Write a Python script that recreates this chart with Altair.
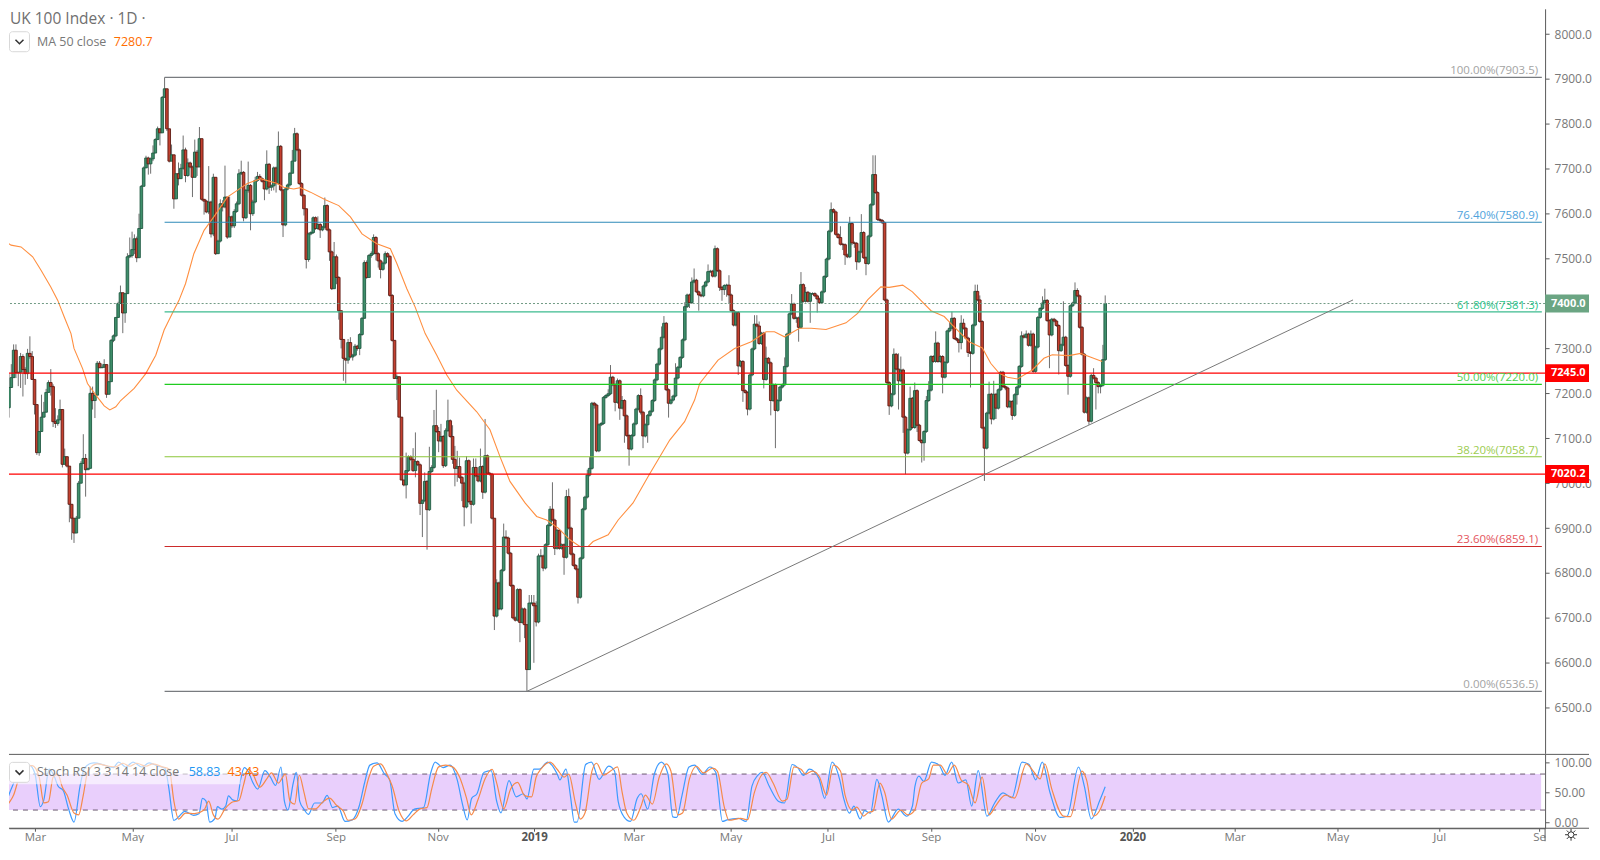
import json
import altair as alt
import pandas as pd

FONT = "Open Sans"
first_open = 7170
closes = [
7093,7178,7168,7213,7235,7296,7246,7247,7282,7253,
7244,7289,7282,7231,7175,7068,7115,7147,7158,7202,
7224,7215,7137,7133,7141,7164,7042,7059,7038,6953,
6922,6889,6922,7000,7044,7055,7030,7033,7200,7184,
7196,7267,7257,7258,7264,7198,7226,7318,7328,7369,
7400,7424,7379,7422,7504,7507,7520,7544,7502,7567,
7661,7702,7724,7711,7722,7735,7765,7789,7780,7859,7878,
7789,7717,7731,7633,7689,7678,7701,7742,7685,7713,
7704,7681,7737,7704,7767,7632,7628,7604,7626,7555,
7681,7511,7539,7622,7615,7637,7548,7593,7573,7605,
7622,7689,7692,7591,7652,7663,7600,7626,7674,
7683,7678,7672,7655,7710,7659,7662,7702,7667,7750,
7653,7575,7655,7664,7690,7717,7778,7742,7667,7641,
7611,7498,7555,7558,7591,7567,7576,7564,7570,7618,
7564,7515,7433,7504,7458,7384,7320,7278,7274,7313,
7281,7285,7305,7300,7331,7367,7491,7458,7507,7511,
7547,7511,7495,7476,7490,7511,7505,7418,7318,7233,
7237,7147,7007,6996,7028,7059,7053,7028,7048,7041,
6955,6961,7004,6941,7026,7035,7128,7115,7094,7104,
7039,7117,7139,7104,7053,7033,7037,7013,7000,6947,
7050,6959,6953,7035,7016,7005,7037,6980,7061,7022,
7020,6922,6704,6778,6720,6806,6880,6878,6844,6772,
6700,6695,6763,6690,6720,6685,6585,6733,6733,6727,
6691,6838,6838,6811,6863,6906,6942,6918,6855,6895,
6855,6863,6835,6970,6900,6842,6817,6809,6746,6833,
6942,6969,7018,7033,7178,7174,7072,7130,7133,7191,
7195,7199,7236,7219,7180,7228,7167,7184,7150,7106,
7076,7106,7132,7165,7195,7158,7105,7130,7151,7160,
7184,7230,7265,7299,7325,7356,7208,7178,7185,7194,
7234,7258,7280,7319,7393,7419,7402,7448,7452,7426,
7419,7417,7439,7448,7471,7472,7461,7522,7473,7436,
7431,7440,7441,7419,7384,7352,7380,7261,7271,7206,
7202,7165,7241,7299,7354,7350,7311,7334,7231,7278,
7268,7184,7219,7162,7184,7214,7219,7260,7332,7377,
7399,7367,7368,7347,7442,7405,7425,7405,7422,7422,
7417,7410,7402,7426,7460,7499,7561,7609,7604,7554,
7547,7532,7531,7508,7504,7578,7535,7534,7493,7515,
7558,7502,7489,7550,7620,7687,7647,7587,7585,7580,
7408,7224,7172,7198,7287,7254,7228,7252,7147,7067,
7119,7189,7124,7206,7129,7095,7090,7115,7184,7207,
7282,7271,7312,7271,7282,7236,7269,7339,7345,7367,
7322,7319,7313,7356,7345,7323,7291,7289,7352,7427,
7408,7360,7123,7078,7156,7198,7143,7198,7167,7208,
7247,7215,7212,7170,7182,7151,7197,7214,7260,7328,
7325,7332,7307,7332,7249,7303,7369,7389,7401,7407,
7362,7330,7365,7361,7351,7295,7308,7325,7262,7238,
7395,7401,7429,7417,7347,7287,7158,7190,7138,7240,
7234,7224,7215,7218,7275,7400,
]
wick_up = [
0,22,5,30,30,13,13,0,8,5,
5,10,38,12,0,0,0,50,23,8,
5,30,5,30,10,22,0,18,0,0,
0,0,5,5,5,54,10,0,15,15,
0,5,5,8,12,0,0,3,3,0,
4,16,0,0,8,40,40,10,5,33,
3,3,5,3,3,17,3,5,0,3,25.5,
0,0,23,0,0,25,10,32,5,10,
3,3,28,5,26,0,0,3,80,3,
8,0,3,10,8,70,0,45,3,5,
5,10,26,3,3,53,3,5,8,
10,5,3,3,31,3,3,3,3,33,
3,0,3,3,3,25,13,3,3,3,
3,0,3,3,3,3,18,3,3,18,
3,3,3,33,5,3,0,0,0,8,
12,3,5,3,3,3,5,5,3,5,
7,3,3,3,3,5,3,3,3,0,
5,0,0,0,40,3,3,25,65,3,
3,3,20,3,55,5,35,80,10,28,
3,5,47,3,25,30,35,20,3,3,
10,3,3,20,20,20,40,3,82,3,
3,3,0,8,3,3,30,15,3,3,
3,3,3,3,3,3,0,18,18,18,
10,5,15,3,3,3,7,60,3,3,
3,3,3,15,18,3,3,3,0,3,
3,3,12,25,3,3,3,3,3,3,
3,10,27,3,3,5,3,10,3,3,
3,3,3,3,3,16,3,3,3,3,
3,3,3,3,24,16,3,3,3,3,
33,3,3,3,10,3,3,10,26,3,
3,3,3,3,16,3,3,7,3,3,
3,3,3,22,3,3,3,3,3,3,
3,3,3,3,20,20,10,3,3,26,
3,3,3,3,3,3,3,20,3,3,
22,3,3,3,28,3,12,3,3,3,
3,3,3,3,3,3,3,16,3,3,
3,25,3,3,3,15,3,3,3,3,
41,3,3,3,3,43,43,3,3,3,
3,3,3,3,13,3,35,30,3,3,
3,26,3,18,3,3,3,3,10,20,
3,3,26,3,3,3,3,3,14,15,
3,3,3,18,10,3,3,3,3,15,
15,10,3,3,3,28,3,30,3,3,
3,3,3,3,3,3,3,3,3,10,
5,8,3,8,3,3,3,3,15,26,
3,3,3,3,3,3,3,80,3,3,
3,3,18,5,3,3,3,3,3,3,
16,3,3,3,33,18,
]
wick_down = [
15,0,5,22,0,0,12,30,35,60,
25,12,5,0,22,5,7,0,0,0,
0,20,12,10,5,0,7,0,3,40,
48,22,0,0,0,0,60,0,0,20,
39,0,0,0,0,8,0,0,4,3,
0,0,45,22,0,3,5,10,10,0,
0,0,0,24,22,5,0,0,28,0,0,
5,3,0,22,0,15,0,3,15,3,
3,44,0,20,0,3,30,3,5,8,
5,3,0,3,10,3,4,0,5,5,
3,3,3,8,3,5,37,5,3,
3,3,3,25,3,15,8,10,20,3,
3,27,3,3,3,0,0,3,3,3,
15,20,5,3,3,3,3,18,3,3,
3,20,3,0,15,20,20,50,52,8,
3,8,3,5,15,3,0,3,0,5,
3,15,15,20,3,3,3,3,3,0,
48,0,0,3,30,3,3,3,15,3,
26,75,3,89,3,3,3,3,25,3,
5,3,3,3,10,40,30,3,40,43,
3,3,43,3,3,3,3,15,3,3,
3,3,31,3,3,3,3,3,3,3,
3,3,3,44,3,30,49,0,3,127,
10,3,3,7,3,3,3,3,15,3,
3,3,39,3,3,3,3,3,14,3,
3,3,3,3,3,8,3,3,3,3,
3,3,3,3,20,3,26,3,60,3,
37,3,3,3,3,5,27,3,40,3,
3,3,3,3,3,3,3,32,3,3,
3,3,3,3,3,3,12,3,3,3,
35,3,3,3,3,3,3,3,3,8,
25,12,25,20,3,3,3,20,3,25,
3,14,3,3,3,3,3,3,20,3,
3,33,3,84,3,3,3,3,3,3,
3,3,10,32,3,3,3,3,48,3,
3,30,3,3,3,3,3,3,3,3,
3,3,12,22,3,3,5,10,18,3,
3,3,26,3,3,3,3,3,3,3,
3,3,20,3,3,3,64,3,35,47,
3,3,3,3,15,3,44,40,3,3,
3,3,3,3,3,36,3,3,3,3,
3,3,22,15,3,3,10,76,3,3,
3,3,3,73,3,3,12,3,24,3,
3,3,5,3,3,10,3,22,3,3,
3,3,3,3,3,3,3,3,3,3,
3,74,3,3,3,53,3,3,3,41,
3,3,3,3,3,3,3,3,8,3,
3,60,15,15,3,3,
]
ma_bar = [0,3.9,8.2,13.2,16.8,21,24,26.8,29.7,31,34.7,36.8,40.4,44,46.4,49,51.1,56.9,61.9,66.2,69.8,73.3,76.2,79,82.6,87,91.2,97,101.3,105.6,111.3,118.5,121.3,125.6,128.5,132.8,139.2,145,150,155,161.4,167.2,170,174.3,177.9,182.2,187.2,191.5,195.8,204.4,210.1,214.4,218.7,225.2,230.2,234.5,239.5,244.5,248.8,252.4,254.5,261,265.3,271.7,278.2,287.5,293.9,298.2,300.4,308.3,315.4,322.6,329,332.6,336.9,343.4,348.4,354.8,363.4,368.4,372.7,378.4,382,387.8,392,400,405.7,409.2,416.4,422.1,425.7,429.3,432.9,437.2,443.6,448.6,452.2,459.4,464.4,468,473.7]
ma_val = [7543,7530,7526,7504,7474,7437,7407,7370,7333,7300,7255,7222,7196,7172,7163,7170,7184,7211,7244,7285,7341,7378,7407,7444,7511,7563,7593,7637,7652,7667,7678,7667,7659,7655,7658,7648,7631,7618,7593,7555,7533,7522,7489,7433,7392,7333,7285,7241,7207,7159,7119,7059,7004,6956,6926,6918,6900,6874,6859,6859,6870,6885,6918,6956,7015,7096,7137,7185,7222,7274,7300,7315,7337,7337,7326,7345,7345,7342,7357,7378,7408,7437,7436,7441,7426,7384,7371,7352,7315,7301,7267,7245,7236,7232,7252,7278,7286,7284,7289,7282,7271]
blue_bar = [0,1.9,3.4,5.7,7.2,11.8,14.2,16.5,18,20.3,22.6,24.1,26.4,28.7,31,33.6,35.6,39.5,44.1,47.9,50.2,53.3,56.4,60.2,63.3,67.1,70.2,71.7,74,76.3,78.6,82.5,84.8,86.3,87.8,89.4,91.7,92.7,94.7,96.3,97.5,99.3,101.2,102.7,104.3,106.2,107.8,110.1,113.2,115.5,117.8,120.1,121.6,123.1,125.4,126.7,128.2,130,131.9,134.6,137.7,140,142.3,144.6,147.7,150.8,153.8,156.1,158.4,161.5,164.6,166.9,169.2,172.3,174.6,177.6,181.5,184.5,186.5,189.9,193,196,198.3,200.3,202.2,204.5,207.6,210.6,213,214.8,218.3,221.4,224.5,226,229,231.4,234.9,239,240.2,242.8,244.8,246.4,247.6,251.3,253.8,257.1,261.2,263.7,265.3,267.8,270.6,273.5,275.2,278,280.9,283.9,286.7,288.8,290.5,292.8,295.8,298.2,301.5,304.8,307.3,310.2,312.2,317.1,320.4,322.9,325.4,327.3,330.3,334.4,336.9,340.2,342.6,345.1,347.6,351.7,354.2,357.4,360.7,362.4,364.9,366.8,369.5,371.4,373.9,376.7,378.8,381.6,385.9,389.5,392,393.1,394.8,396.9,400.2,403.5,406,408.9,411.7,415,417.5,420.3,424.1,427.4,431,434.8,439.2,442.2,445.1,447.9,451.2,455.6,458.6,463.5,466,469,472.6,475]
blue_val = [21.5,34.4,49.7,72.8,95.9,94.9,80.5,25.6,36.9,88.2,75.4,60,52.3,21.5,0,60,90.8,98.5,94.9,90.8,100,91.8,100,91.8,98.5,93.3,89.7,60,2.6,9.7,17.9,11.3,13.8,39.5,35.4,0,6.2,25.6,21.5,26.7,43.6,36.9,35.4,70.3,90.8,83,67.7,54.9,85.6,75.4,61,91.8,34.4,20,65.1,83,34.4,21.5,12.8,31.8,31.8,44.6,24.1,26.7,1,3.6,26.7,65.1,94.9,98.5,80.5,70.3,13.8,1,8.7,21.5,24.1,80.5,100,90.8,94.9,70.3,29.2,3.6,39.5,47.2,83,85.6,34.4,15.4,69.2,42.1,47.2,38.5,88.2,88.2,100,80.5,70.3,88.2,42.1,0,0,95.9,100,71.3,93.3,85.6,34.4,8.7,1,39.5,47.2,21.5,80.5,100,80.5,8.7,7.7,44.6,91.8,94.9,79.5,91.8,83,1,3.6,6.2,1,60,77.9,83,60,34.4,31.8,95.9,90.8,77.9,88.2,72.8,39.5,100,70.3,39.5,14.9,26.7,5.1,19,14.9,71.3,44.6,0,21.5,9.7,26.7,60,76.4,67.7,100,94.9,77.9,100,65.1,70.3,26.7,85.6,9.7,31.8,48.7,40.5,100,95.9,70.3,100,49.7,7.7,9.7,91.8,60,5.1,35.4,58.83]
orange_bar = [0,3,5,7,9,13,16,18,20,22,24,26,28,31,33,35,37,41,46,49,52,55,58,62,65,69,72,74,76,79,83,87,89,91,93,96,99,102,104,106,108,111,114,116,119,122,124,126,128,130,132,135,138,141,144,147,149,152,155,158,160,163,166,168,171,174,177,180,183,185,188,191,194,197,200,202,205,208,211,213,216,219,222,225,228,230,232,236,239,242,244,247,249,251,254,256,259,262,265,267,269,272,275,277,280,283,286,288,291,293,296,299,302,306,308,311,313,318,321,324,327,329,332,336,338,341,344,346,349,352,355,358,361,363,366,368,371,373,375,378,380,383,387,390,393,396,399,401,404,407,410,413,416,419,422,425,428,432,436,441,444,447,449,452,457,460,465,467,470,473,475]
orange_val = [18,32,45,70,92,94,75,32,34,75,80,58,45,15,12,45,85,97,93,92,98,93,98,93,97,92,88,35,5,15,14,20,35,12,5,22,33,36,62,88,80,58,72,82,65,80,35,30,78,50,22,22,33,40,28,18,3,5,30,75,93,97,78,60,18,2,12,22,24,55,92,95,92,75,40,12,38,72,88,65,22,55,66,44,42,75,88,100,88,75,80,30,5,15,85,98,78,85,92,50,15,3,25,45,30,75,97,85,12,15,72,93,82,90,85,25,3,6,4,50,78,83,65,35,38,92,88,80,85,75,45,95,85,45,20,25,10,16,18,65,50,5,20,12,20,65,72,95,95,80,95,70,62,32,75,12,28,45,40,97,85,72,97,55,10,9,85,70,10,22,43.43]
y_ticks = [6500,6600,6700,6800,6900,7000,7100,7200,7300,7500,7600,7700,7800,7900,8000]
month_bars = [14.2,56.1,98.8,143.7,187.6,229.1,272,313.7,355.6,400,444.8,486.7,530.7,575,618.8,661.8]
month_labels = ["Mar","May","Jul","Sep","Nov","2019","Mar","May","Jul","Sep","Nov","2020","Mar","May","Jul","Se"]
fib_levels = [7903.5,7580.9,7381.3,7220.0,7058.7,6859.1,6536.5]
fib_text = ["100.00%(7903.5)","76.40%(7580.9)","61.80%(7381.3)","50.00%(7220.0)","38.20%(7058.7)","23.60%(6859.1)","0.00%(6536.5)"]
fib_line_colors = ["#787b7f","#2e8ab8","#3dbb8f","#20cc20","#8cc63a","#cc2b2b","#787b7f"]
fib_text_colors = ["#a3a3a3","#4fa3dc","#2cc48a","#4fd24f","#9ccc50","#e4555c","#a3a3a3"]
price_tags = [7400.0,7245.0,7020.2]
tag_low = [7380,7225,7000.2]
tag_high = [7420,7265,7040.2]
tag_text = ["7400.0","7245.0","7020.2"]
tag_colors = ["#6ba583","#ff0000","#ff0000"]
red_levels = [7245.0,7020.2]
fib_start_bar = 70
fib_end_bar = 663
trend_bar = [226,581.7]
trend_val = [6536.5,7408]

W, H1, H2 = 1539, 746, 74
RIGHT = 1583
AXC = "#5a5a5a"
TXT = "#787878"
x_scale = alt.Scale(domain=[3.008,664.4], nice=False, zero=False, padding=0)
y_scale = alt.Scale(domain=[6398.4,8056.2], nice=False, zero=False)
y2_scale = alt.Scale(domain=[-10.3,112.8], nice=False, zero=False)
y_axis = alt.Axis(orient="right",values=y_ticks,format=".1f",title=None,grid=False,
    labelFont=FONT,labelFontSize=12,labelColor=TXT,labelPadding=5,tickSize=4,tickColor=AXC,domainColor=AXC)
y2_axis = alt.Axis(orient="right",values=[0,50,100],format=".2f",title=None,grid=False,
    labelFont=FONT,labelFontSize=12,labelColor=TXT,labelPadding=5,tickSize=4,tickColor=AXC,domainColor=AXC)
x_axis = alt.Axis(values=month_bars,title=None,grid=False,orient="bottom",
    labelExpr=json.dumps({str(b):l for b,l in zip(month_bars,month_labels)})+"[datum.value]",
    labelFont=FONT,labelFontSize=11.5,
    labelColor={"condition":{"test":"datum.value==229.1||datum.value==486.7","value":"#555555"},"value":TXT},
    labelFontWeight={"condition":{"test":"datum.value==229.1||datum.value==486.7","value":"bold"},"value":"normal"},
    labelPadding=0,tickSize=3,tickColor=AXC,domainColor=AXC,labelOverlap=False,labelBound=False,labelFlush=False)
X = lambda f="bar": alt.X(f"{f}:Q", scale=x_scale, axis=None)
Xb = lambda f="bar": alt.X(f"{f}:Q", scale=x_scale, axis=x_axis)
Y = lambda f: alt.Y(f"{f}:Q", scale=y_scale, axis=y_axis)
Y2 = lambda f: alt.Y(f"{f}:Q", scale=y2_scale, axis=y2_axis)

opens = [first_open] + closes[:-1]
df = pd.DataFrame({"bar":range(len(closes)),"open":opens,"close":closes,"up":wick_up,"down":wick_down})
df["top"] = df[["open","close"]].max(axis=1)
df["bot"] = df[["open","close"]].min(axis=1)
df["high"] = df["top"]+df["up"]
df["low"] = df["bot"]-df["down"]
df["dir"] = ["u" if c>=o else "d" for o,c in zip(opens,closes)]

wicks = alt.Chart(df).mark_rule(color="#6e6e6e",strokeWidth=1,clip=True).encode(x=X(),y=Y("high"),y2="low:Q")
bodies = alt.Chart(df).mark_bar(size=2.6,strokeWidth=0.9,clip=True).encode(
    x=X(),y=Y("top"),y2="bot:Q",
    fill=alt.Fill("dir:N",scale=alt.Scale(domain=["u","d"],range=["#3f8f6b","#c4402f"]),legend=None),
    stroke=alt.Stroke("dir:N",scale=alt.Scale(domain=["u","d"],range=["#1f5a42","#5e1a12"]),legend=None))
ma = alt.Chart(pd.DataFrame({"bar":ma_bar,"v":ma_val})).mark_line(color="#ff8f40",strokeWidth=1.1,clip=True).encode(x=X(),y=Y("v"),order="bar:Q")
dash400 = alt.Chart(pd.DataFrame({"p":[price_tags[0]]})).mark_rule(color="#6f9a84",strokeWidth=1,strokeDash=[2,2]).encode(y=Y("p"))
reds = alt.Chart(pd.DataFrame({"p":red_levels})).mark_rule(color="#ff0000",strokeWidth=1.2).encode(y=Y("p"))
fib_df = pd.DataFrame({"p":fib_levels,"t":fib_text,"c":fib_line_colors,"tc":fib_text_colors,"a":[fib_start_bar]*7,"b":[fib_end_bar]*7})
fibs = alt.Chart(fib_df).mark_rule(strokeWidth=1.1).encode(x=X("a"),x2="b:Q",y=Y("p"),color=alt.Color("c:N",scale=None))
fib_lab = alt.Chart(fib_df).mark_text(align="right",baseline="middle",dy=-6,font=FONT,fontSize=11.5).encode(
    x=alt.value(1532),y=Y("p"),text="t:N",color=alt.Color("tc:N",scale=None))
trend = alt.Chart(pd.DataFrame({"bar":trend_bar,"v":trend_val})).mark_line(color="#787878",strokeWidth=1).encode(x=X(),y=Y("v"))

tag_df = pd.DataFrame({"p":price_tags,"lo":tag_low,"hi":tag_high,"t":tag_text,"c":tag_colors})
tag_bg = alt.Chart(tag_df).mark_rect().encode(x=alt.value(W),x2=alt.value(RIGHT),y=Y("lo"),y2="hi:Q",color=alt.Color("c:N",scale=None))
tag_tx = alt.Chart(tag_df).mark_text(align="left",baseline="middle",font=FONT,fontSize=11,fontWeight="bold",color="white").encode(
    x=alt.value(W+6),y=Y("p"),text="t:N")

def text(s,x,y,color,size=12.5,**kw):
    return alt.Chart(pd.DataFrame({"t":[s]})).mark_text(align="left",baseline="middle",font=FONT,fontSize=size,color=color,**kw).encode(
        x=alt.value(x),y=alt.value(y),text="t:N")
def chevron(x0,y0):
    box = alt.Chart(pd.DataFrame({"a":[0]})).mark_rect(fill="white",stroke="#d8d8d8",strokeWidth=1,cornerRadius=3).encode(
        x=alt.value(x0),x2=alt.value(x0+20),y=alt.value(y0),y2=alt.value(y0+20))
    ch = alt.Chart(pd.DataFrame({"a":[0]})).mark_point(shape="M-1,-0.5L0,0.5L1,-0.5",size=64,filled=False,stroke="#333333",strokeWidth=1.5,opacity=1).encode(
        x=alt.value(x0+10),y=alt.value(y0+10))
    return box+ch

top = alt.layer(wicks,bodies,ma,dash400,reds,fibs,trend,fib_lab,tag_bg,tag_tx,
    text("UK 100 Index · 1D ·",1,10,"#707070",size=15.5),
    chevron(0.5,23),
    text("MA 50 close",28,33.5,"#787878"),
    text("7280.7",105,33.5,"#ff6d00",fontWeight=500),
).properties(width=W,height=H1)

band = alt.Chart(pd.DataFrame({"a":[3.008],"b":[662.7],"lo":[20],"hi":[80]})).mark_rect(color="#e9cffc").encode(
    x=Xb("a"),x2="b:Q",y=Y2("lo"),y2="hi:Q")
lev = alt.Chart(pd.DataFrame({"p":[80,20]})).mark_rule(color="#6a5a70",strokeWidth=1,strokeDash=[5,5]).encode(y=Y2("p"))
blue = alt.Chart(pd.DataFrame({"bar":blue_bar,"v":blue_val})).mark_line(color="#3d9bff",strokeWidth=1.2,clip=True,interpolate="monotone").encode(x=Xb(),y=Y2("v"))
orange = alt.Chart(pd.DataFrame({"bar":orange_bar,"v":orange_val})).mark_line(color="#f58a4a",strokeWidth=1.2,clip=True,interpolate="monotone").encode(x=Xb(),y=Y2("v"))
veil = alt.Chart(pd.DataFrame({"a":[0]})).mark_rect(fill="white",opacity=0.6).encode(
    x=alt.value(0),x2=alt.value(232),y=alt.value(6),y2=alt.value(30))
sep_top = alt.Chart(pd.DataFrame({"a":[0]})).mark_rule(color=AXC,strokeWidth=1).encode(x=alt.value(0),x2=alt.value(RIGHT),y=alt.value(0))
sep_bot = alt.Chart(pd.DataFrame({"a":[0]})).mark_rule(color=AXC,strokeWidth=1).encode(x=alt.value(0),x2=alt.value(RIGHT),y=alt.value(H2))
vert = alt.Chart(pd.DataFrame({"a":[0]})).mark_rule(color=AXC,strokeWidth=1).encode(x=alt.value(W),y=alt.value(H2),y2=alt.value(H2+13))
gear_path = ("M0.5,0L0.35,0.35L0,0.5L-0.35,0.35L-0.5,0L-0.35,-0.35L0,-0.5L0.35,-0.35Z"
             "M0,-1L0,-0.5M0,0.5L0,1M-1,0L-0.5,0M0.5,0L1,0"
             "M-0.7,-0.7L-0.35,-0.35M0.35,0.35L0.7,0.7M-0.7,0.7L-0.35,0.35M0.35,-0.35L0.7,-0.7")
gear = alt.Chart(pd.DataFrame({"a":[0]})).mark_point(shape=gear_path,size=144,filled=False,stroke="#333333",strokeWidth=1,opacity=1).encode(
    x=alt.value(1565),y=alt.value(H2+6.5))

bottom = alt.layer(band,lev,blue,orange,veil,
    chevron(0.5,8),
    text("Stoch RSI 3 3 14 14 close",28,18,"#787878"),
    text("58.83",180,18,"#2196f3"),
    text("43.43",219,18,"#ff6d00"),
    sep_top,sep_bot,vert,gear,
).properties(width=W,height=H2)

chart = alt.vconcat(top,bottom,spacing=0).properties(padding={"left":0,"top":0,"right":0,"bottom":-1}).configure_view(strokeWidth=0)
chart.save("out.html", embed_options={"renderer":"svg","actions":False})
